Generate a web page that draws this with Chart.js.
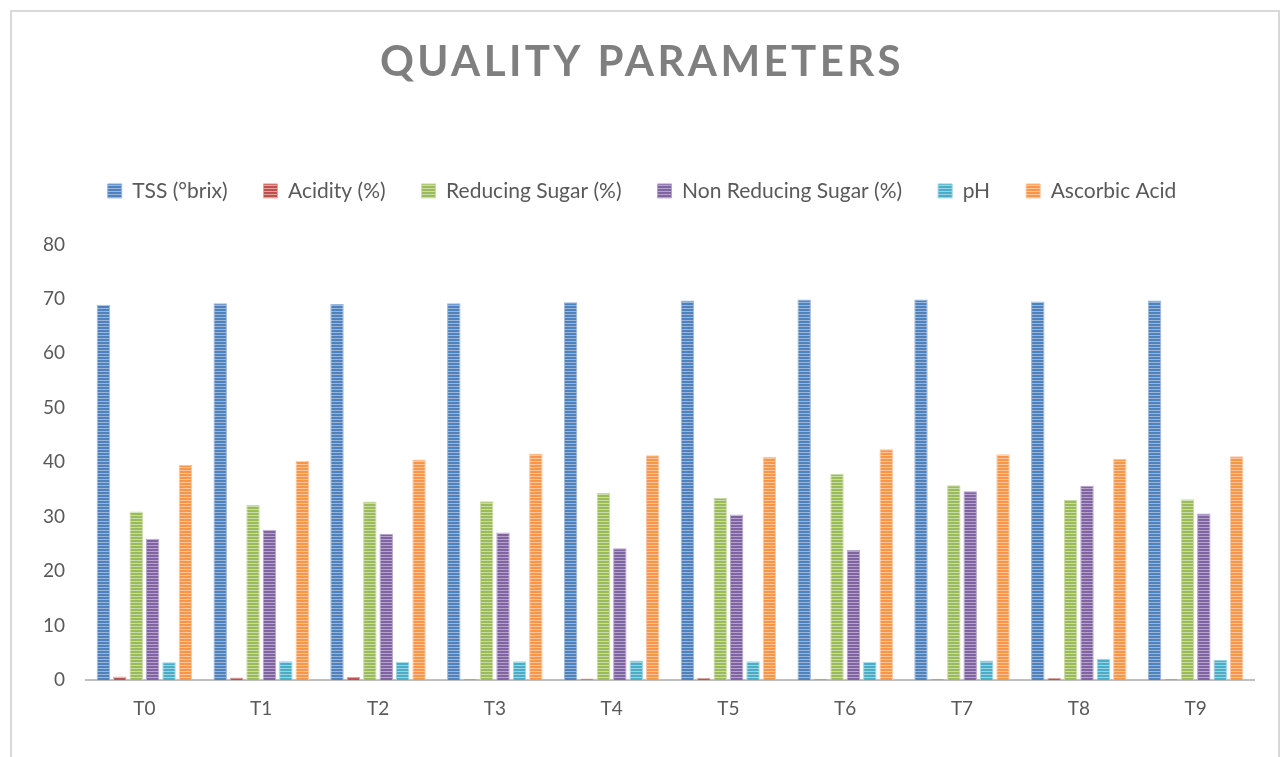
<!DOCTYPE html>
<html>
<head>
<meta charset="utf-8">
<script src="https://cdn.jsdelivr.net/npm/chart.js@4.4.1/dist/chart.umd.min.js"></script>
<style>
  html, body { margin: 0; padding: 0; background: #ffffff; }
  #wrap { position: relative; width: 1283px; height: 757px; overflow: hidden; }
  #c { position: absolute; left: 0; top: 0; }
  #frame { position: absolute; left: 10px; top: 10px; width: 1266px; height: 800px; border: 2px solid #d9d9d9; pointer-events: none; }
</style>
</head>
<body>
<div id="wrap">
  <canvas id="c" width="1283" height="757"></canvas>
  <div id="frame"></div>
</div>
<script>
const categories = ['T0', 'T1', 'T2', 'T3', 'T4', 'T5', 'T6', 'T7', 'T8', 'T9'];
const seriesNames = ['TSS (°brix)', 'Acidity (%)', 'Reducing Sugar (%)', 'Non Reducing Sugar (%)', 'pH', 'Ascorbic Acid'];
const tss = [68.9, 69.2, 69.05, 69.2, 69.4, 69.7, 69.9, 69.9, 69.5, 69.7];
const acidity = [0.68, 0.5, 0.6, 0.2, 0.3, 0.4, 0.2, 0.2, 0.4, 0.2];
const reducingSugar = [30.95, 32.2, 32.8, 32.85, 34.4, 33.5, 37.9, 35.8, 33.1, 33.2];
const nonReducingSugar = [25.95, 27.6, 26.9, 27.1, 24.2, 30.4, 23.9, 34.7, 35.7, 30.6];
const ph = [3.3, 3.5, 3.4, 3.5, 3.6, 3.5, 3.4, 3.6, 3.9, 3.7];
const ascorbicAcid = [39.5, 40.3, 40.5, 41.6, 41.3, 41.0, 42.4, 41.5, 40.6, 41.1];
const yTicks = [0, 10, 20, 30, 40, 50, 60, 70, 80];

const colors = ['#4f81bd', '#c0504d', '#9bbb59', '#8064a2', '#4bacc6', '#f79646'];
const lights = ['#9ab5da', '#e0a3a1', '#c9dba6', '#b5a3cb', '#98d3e2', '#fbc49d'];

function stripes(dark, light) {
  const c = document.createElement('canvas');
  c.width = 4; c.height = 3;
  const x = c.getContext('2d');
  x.fillStyle = dark; x.fillRect(0, 0, 4, 2);
  x.fillStyle = light; x.fillRect(0, 2, 4, 1);
  return document.getElementById('c').getContext('2d').createPattern(c, 'repeat');
}

const values = [tss, acidity, reducingSugar, nonReducingSugar, ph, ascorbicAcid];
const datasets = seriesNames.map((name, i) => ({
  label: name,
  data: values[i],
  backgroundColor: stripes(colors[i], lights[i]),
  borderColor: lights[i],
  borderWidth: 1,
  barPercentage: 0.82,
  categoryPercentage: 0.843
}));

const spacedTitle = {
  id: 'spacedTitle',
  beforeInit(chart) {
    const lg = chart.legend;
    if (lg) {
      const fit = lg.fit;
      lg.fit = function () { fit.call(lg); this.height += 33; };
    }
  },
  beforeDraw(chart) {
    const t = chart.titleBlock;
    if (t && !t._spaced) {
      const orig = t.draw.bind(t);
      t.draw = function () {
        const ctx = chart.ctx;
        const prev = ctx.letterSpacing;
        ctx.letterSpacing = '3.4px';
        orig();
        ctx.letterSpacing = prev || '0px';
      };
      t._spaced = true;
    }
  }
};

new Chart(document.getElementById('c'), {
  type: 'bar',
  data: { labels: categories, datasets: datasets },
  plugins: [spacedTitle],
  options: {
    responsive: false,
    animation: false,
    layout: { padding: { left: 30, right: 29, top: 0, bottom: 28 } },
    plugins: {
      title: {
        display: true,
        text: 'QUALITY PARAMETERS',
        color: '#7f7f7f',
        font: { family: 'Lato', size: 42, weight: 'bold', lineHeight: 1.2 },
        padding: { top: 37, bottom: 57 }
      },
      legend: {
        display: true,
        position: 'top',
        labels: {
          color: '#595959',
          font: { family: 'Lato', size: 21 },
          boxWidth: 14,
          boxHeight: 14,
          padding: 36
        }
      },
      tooltip: { enabled: false }
    },
    scales: {
      x: {
        grid: { display: false },
        border: { display: true, color: '#bfbfbf', width: 2 },
        ticks: { color: '#595959', font: { family: 'Lato', size: 19 }, padding: 9 }
      },
      y: {
        min: 0,
        max: 80,
        afterBuildTicks(scale) { scale.ticks = yTicks.map(v => ({ value: v })); },
        grid: { display: false },
        border: { display: false },
        ticks: { color: '#595959', font: { family: 'Lato', size: 19 }, padding: 13 }
      }
    }
  }
});
</script>
</body>
</html>
